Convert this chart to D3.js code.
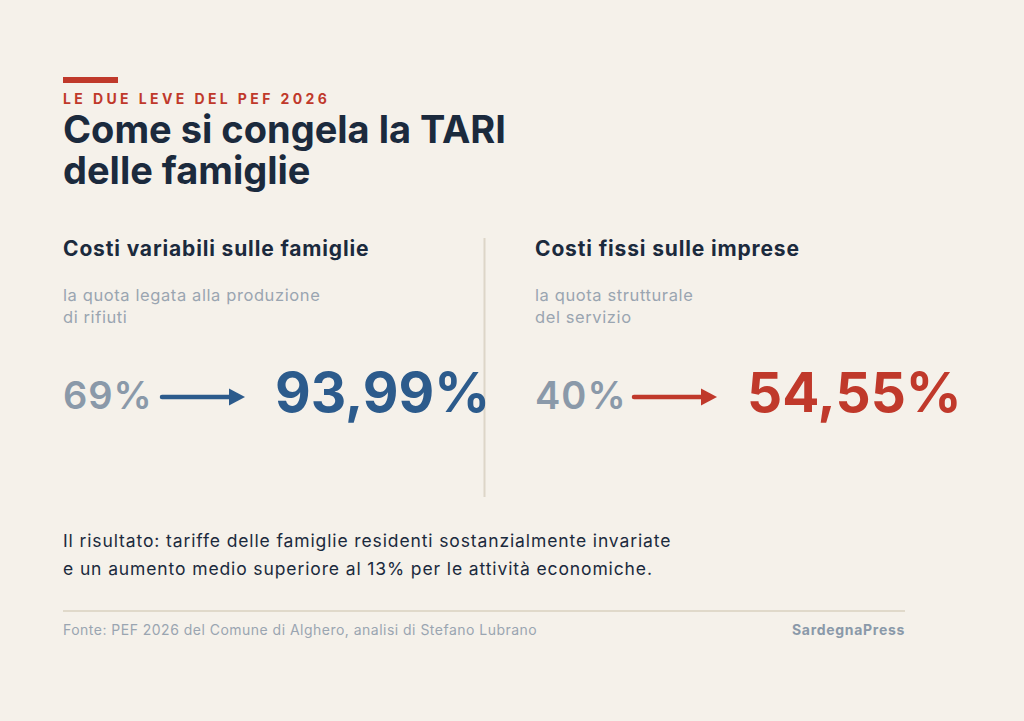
<!DOCTYPE html>
<html><head><meta charset="utf-8">
<script src="https://cdn.jsdelivr.net/npm/d3@7"></script>
<style>html,body{margin:0;padding:0;background:#f5f1ea;}svg{display:block;font-family:Inter,"Noto Sans",sans-serif;font-variation-settings:"opsz" 14;font-optical-sizing:none;}</style>
</head><body>
<svg id="chart" width="1024" height="721"></svg>
<script>
const kicker = "LE DUE LEVE DEL PEF 2026";
const titleLines = ["Come si congela la TARI", "delle famiglie"];
const headings = ["Costi variabili sulle famiglie", "Costi fissi sulle imprese"];
const subtitles = [["la quota legata alla produzione", "di rifiuti"], ["la quota strutturale", "del servizio"]];
const fromValues = [69, 40];
const toValues = [93.99, 54.55];
const seriesColors = ["#2c5b8c", "#c0392b"];
const conclusion = ["Il risultato: tariffe delle famiglie residenti sostanzialmente invariate",
                    "e un aumento medio superiore al 13% per le attività economiche."];
const source = "Fonte: PEF 2026 del Comune di Alghero, analisi di Stefano Lubrano";
const brand = "SardegnaPress";

const svg = d3.select("#chart");
svg.append("rect").attr("width",1024).attr("height",721).attr("fill","#f5f1ea");

const navy = "#1b2a3d", grey = "#8a99a9", lightGrey = "#9aa5b1";
const left = 63, right = 905;

svg.append("rect").attr("x",left).attr("y",77).attr("width",55).attr("height",6).attr("fill","#c0392b");
svg.append("text").attr("x",left).attr("y",104).attr("fill","#c0392b")
  .attr("font-size",14).attr("font-weight",700).attr("letter-spacing",3.4).text(kicker);
svg.selectAll("text.title").data(titleLines).join("text").attr("class","title")
  .attr("x",left).attr("y",(d,i)=>143+i*41).attr("fill",navy)
  .attr("font-size",38).attr("font-weight",700).text(d=>d);

const col = d3.scaleBand().domain(d3.range(headings.length)).range([left, left + 2*472]).paddingInner(0);
const fmt = v => d3.format(".2f")(v).replace(".", ",") + "%";

svg.append("line").attr("x1",484.5).attr("x2",484.5).attr("y1",238).attr("y2",497)
  .attr("stroke","#ddd6c8").attr("stroke-width",2);

headings.forEach((h,i)=>{
  const x0 = col(i);
  const g = svg.append("g").attr("transform",`translate(${x0},0)`);
  g.append("text").attr("y",256).attr("fill",navy).attr("font-size",21).attr("font-weight",700).attr("letter-spacing",0.85).text(h);
  g.selectAll("text.sub").data(subtitles[i]).join("text").attr("class","sub")
    .attr("y",(d,j)=>301+j*22).attr("fill",lightGrey).attr("font-size",16.5).attr("letter-spacing",0.6).text(d=>d);
  g.append("text").attr("y",409).attr("fill",grey).attr("font-size",38).attr("font-weight",600).attr("letter-spacing",1).text(fromValues[i]+"%");
  g.append("line").attr("x1",99).attr("x2",168).attr("y1",397).attr("y2",397)
    .attr("stroke",seriesColors[i]).attr("stroke-width",4.5).attr("stroke-linecap","round");
  g.append("path").attr("d","M166,388.5 L182,397 L166,405.5 Z").attr("fill",seriesColors[i]);
  g.append("text").attr("x",212).attr("y",412).attr("fill",seriesColors[i]).attr("font-size",55).attr("font-weight",700).text(fmt(toValues[i]));
});

svg.selectAll("text.concl").data(conclusion).join("text").attr("class","concl")
  .attr("x",left).attr("y",(d,i)=>547+i*28).attr("fill",navy).attr("font-size",17.5).attr("letter-spacing",0.88).text(d=>d);

svg.append("line").attr("x1",left).attr("x2",right).attr("y1",611).attr("y2",611).attr("stroke","#e0d9ca").attr("stroke-width",2);
svg.append("text").attr("x",left).attr("y",635).attr("fill",lightGrey).attr("font-size",14).attr("letter-spacing",0.48).text(source);
svg.append("text").attr("x",right).attr("y",635).attr("text-anchor","end").attr("fill",grey).attr("font-size",14).attr("font-weight",700).attr("letter-spacing",0.7).text(brand);
</script>
</body></html>
